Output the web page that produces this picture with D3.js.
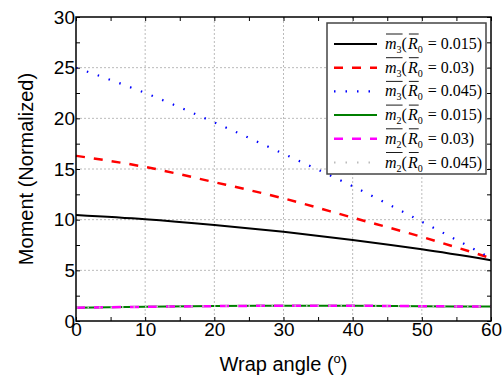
<!DOCTYPE html>
<html>
<head>
<meta charset="utf-8">
<script src="https://cdn.jsdelivr.net/npm/d3@7"></script>
<style>
  body { margin: 0; background: #fff; }
  svg { display: block; }
</style>
</head>
<body>
<div id="chart"></div>
<script>
// wrap angle samples (degrees)
const angles = [0, 10, 20, 30, 40, 50, 60];

// m3 curves
const m3_015 = [10.46, 10.04, 9.47, 8.8, 8.0, 7.07, 6.0];
const m3_030 = [16.3, 15.2, 13.7, 12.1, 10.2, 8.3, 6.2];
const m3_045 = [25.0, 22.5, 19.6, 16.5, 13.3, 9.8, 6.2];

// m2 curves (almost flat, overlapping)
const m2_015 = [1.31, 1.4, 1.47, 1.5, 1.5, 1.46, 1.42];
const m2_030 = [1.31, 1.4, 1.47, 1.5, 1.5, 1.46, 1.42];
const m2_045 = [1.31, 1.4, 1.47, 1.5, 1.5, 1.46, 1.42];

const xTicks = [0, 10, 20, 30, 40, 50, 60];
const yTicks = [0, 5, 10, 15, 20, 25, 30];

const seriesNames = ["3", "3", "3", "2", "2", "2"];
const seriesR0 = ["0.015", "0.03", "0.045", "0.015", "0.03", "0.045"];

const width = 503, height = 380;
const margin = { top: 17, right: 12, bottom: 59, left: 76 };
const plotW = width - margin.left - margin.right;
const plotH = height - margin.top - margin.bottom;

const svg = d3.select("#chart").append("svg")
  .attr("width", width).attr("height", height);

const x = d3.scaleLinear().domain([0, 60]).range([0, plotW]);
const y = d3.scaleLinear().domain([0, 30]).range([plotH, 0]);

const g = svg.append("g")
  .attr("transform", "translate(" + margin.left + "," + margin.top + ")");

// grid
g.append("g").selectAll("line").data(xTicks.slice(1, -1)).enter().append("line")
  .attr("x1", d => x(d)).attr("x2", d => x(d))
  .attr("y1", 0).attr("y2", plotH)
  .attr("stroke", "#bbb").attr("stroke-width", 1).attr("stroke-dasharray", "2,2");
g.append("g").selectAll("line").data(yTicks.slice(1, -1)).enter().append("line")
  .attr("y1", d => y(d)).attr("y2", d => y(d))
  .attr("x1", 0).attr("x2", plotW)
  .attr("stroke", "#bbb").attr("stroke-width", 1).attr("stroke-dasharray", "2,2");

// axes with inward ticks
const tickStyle = sel => {
  sel.select(".domain").remove();
  sel.selectAll("line").attr("stroke", "#000");
};
const xMinor = d3.range(0, 61, 5);
const yMinor = d3.range(0, 30.1, 2.5);

g.append("g").attr("transform", "translate(0," + plotH + ")")
  .call(d3.axisBottom(x).tickValues(xMinor).tickSize(-4).tickFormat(""))
  .call(tickStyle);
g.append("g")
  .call(d3.axisTop(x).tickValues(xMinor).tickSize(-4).tickFormat(""))
  .call(tickStyle);
g.append("g")
  .call(d3.axisLeft(y).tickValues(yMinor).tickSize(-4).tickFormat(""))
  .call(tickStyle);
g.append("g").attr("transform", "translate(" + plotW + ",0)")
  .call(d3.axisRight(y).tickValues(yMinor).tickSize(-4).tickFormat(""))
  .call(tickStyle);

// tick labels
g.append("g").attr("transform", "translate(0," + plotH + ")")
  .call(d3.axisBottom(x).tickValues(xTicks).tickSize(0).tickPadding(1))
  .call(a => a.select(".domain").remove())
  .selectAll("text")
  .style("font-family", "Liberation Sans, Arial, sans-serif")
  .style("font-size", "19px").attr("fill", "#000");
g.append("g")
  .call(d3.axisLeft(y).tickValues(yTicks).tickSize(0).tickPadding(1))
  .call(a => a.select(".domain").remove())
  .selectAll("text")
  .style("font-family", "Liberation Sans, Arial, sans-serif")
  .style("font-size", "19px").attr("fill", "#000");

// series
const allSeries = [
  { v: m3_015, color: "#000", w: 2, dash: null },
  { v: m3_030, color: "#f00", w: 2.5, dash: "9,9" },
  { v: m3_045, color: "#00f", w: 2.2, dash: "1.5,10" },
  { v: m2_015, color: "#007f00", w: 2, dash: null },
  { v: m2_030, color: "#f0f", w: 2.5, dash: "9,9" },
  { v: m2_045, color: "#bbb", w: 2, dash: "1.5,10" }
];

const line = d3.line()
  .x((d, i) => x(angles[i]))
  .y(d => y(d))
  .curve(d3.curveMonotoneX);

g.append("g").selectAll("path").data(allSeries).enter().append("path")
  .attr("d", s => line(s.v))
  .attr("fill", "none")
  .attr("stroke", s => s.color)
  .attr("stroke-width", s => s.w)
  .attr("stroke-dasharray", s => s.dash);

// frame
g.append("rect").attr("width", plotW).attr("height", plotH)
  .attr("fill", "none").attr("stroke", "#000").attr("stroke-width", 1.5);

// legend
const lg = svg.append("g").attr("transform", "translate(327,23)");
lg.append("rect").attr("width", 159).attr("height", 151)
  .attr("fill", "#fff").attr("stroke", "#444").attr("stroke-width", 1.5);

const rowH = 23.7;
const rows = lg.selectAll("g.item").data(allSeries).enter().append("g")
  .attr("class", "item")
  .attr("transform", (d, i) => "translate(0," + (21 + i * rowH) + ")");

rows.append("line")
  .attr("x1", 7).attr("x2", 50).attr("y1", 0).attr("y2", 0)
  .attr("stroke", s => s.color)
  .attr("stroke-width", s => s.w)
  .attr("stroke-dasharray", s => s.dash);

// label pieces placed one after another, measured so overlines fit
const serif = "Liberation Serif, Times New Roman, serif";
rows.each(function (d, i) {
  const row = d3.select(this);
  let cx = 58;
  const parts = [
    { t: "m", size: 16, italic: true, dy: 5, bar: true },
    { t: seriesNames[i], size: 10, italic: false, dy: 9, bar: true },
    { t: "(", size: 16, italic: false, dy: 5 },
    { t: "R", size: 16, italic: true, dy: 5, bar: true, gap: 1 },
    { t: "0", size: 10, italic: false, dy: 9 },
    { t: " = " + seriesR0[i] + ")", size: 16, italic: false, dy: 5, gap: 1 }
  ];
  let barStart = null, barEnd = null;
  parts.forEach(p => {
    cx += p.gap || 0;
    const t = row.append("text")
      .attr("x", cx).attr("y", p.dy)
      .style("font-family", serif)
      .style("font-size", p.size + "px")
      .style("font-style", p.italic ? "italic" : "normal")
      .style("white-space", "pre")
      .attr("xml:space", "preserve")
      .attr("fill", "#000")
      .text(p.t);
    const wdt = t.node().getComputedTextLength();
    if (p.bar) {
      if (barStart === null) barStart = cx;
      barEnd = cx + wdt;
    } else if (barStart !== null) {
      row.append("line").attr("x1", barStart + 1).attr("x2", barEnd + 1)
        .attr("y1", -10).attr("y2", -10)
        .attr("stroke", "#000").attr("stroke-width", 0.9);
      barStart = null;
    }
    cx += wdt;
  });
});

// axis titles
svg.append("text")
  .attr("transform", "translate(33," + (margin.top + plotH / 2) + ") rotate(-90)")
  .attr("text-anchor", "middle")
  .style("font-family", "Liberation Sans, Arial, sans-serif")
  .style("font-size", "20px").text("Moment (Normalized)");

const xt = svg.append("text")
  .attr("x", margin.left + plotW / 2).attr("y", 371)
  .attr("text-anchor", "middle")
  .style("font-family", "Liberation Sans, Arial, sans-serif")
  .style("font-size", "20px");
xt.append("tspan").text("Wrap angle (");
xt.append("tspan").attr("dy", -8).style("font-size", "13px").text("o");
xt.append("tspan").attr("dy", 8).text(")");
</script>
</body>
</html>
